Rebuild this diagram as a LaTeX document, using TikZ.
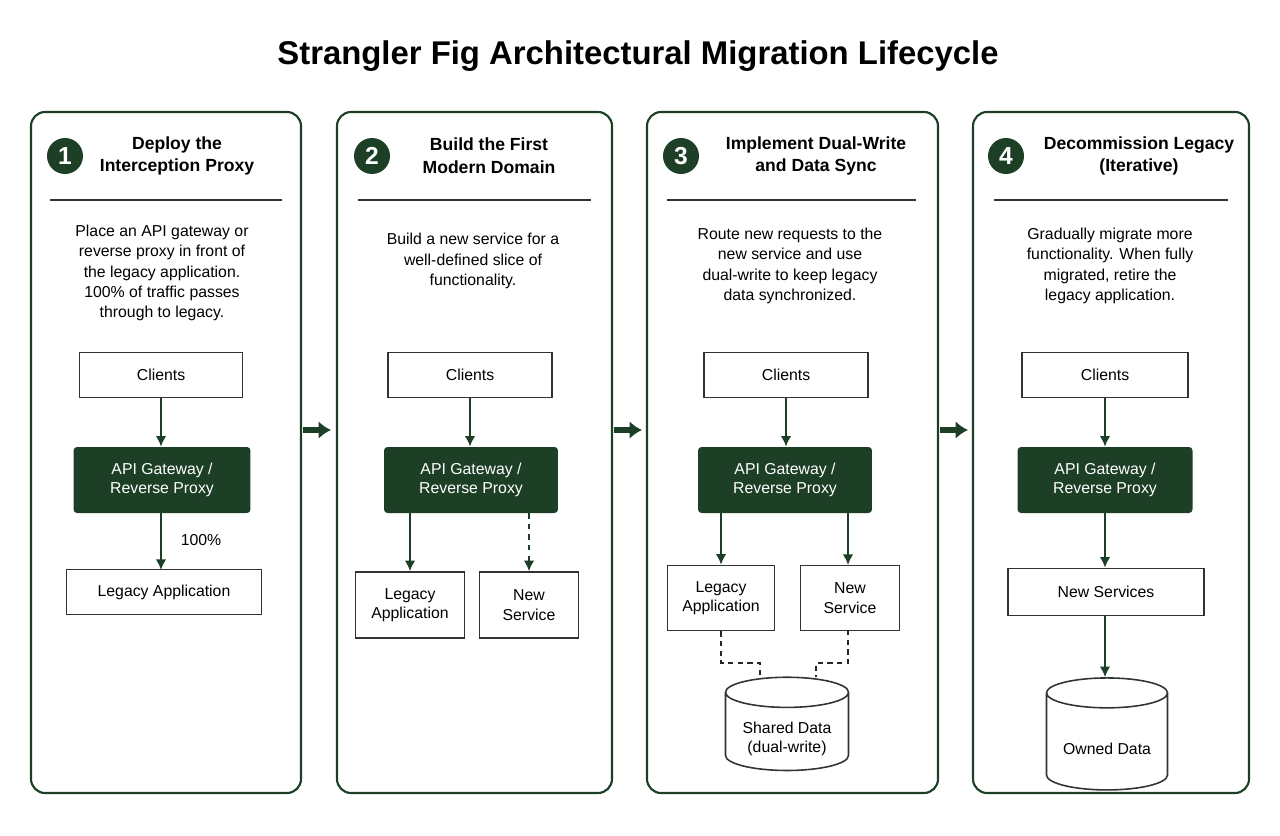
\documentclass[tikz,border=0pt]{standalone}
\usepackage{fontspec}
\setmainfont{Liberation Sans}
\usetikzlibrary{arrows.meta,shapes.geometric,positioning}
\definecolor{FigGreen}{HTML}{1C3F26}
\tikzset{
  box/.style={draw=black!80,line width=0.9pt,fill=white,align=center,font=\fontsize{9}{11}\selectfont},
  gate/.style={fill=FigGreen,rounded corners=2pt,text=white,align=center,font=\fontsize{9}{11}\selectfont},
  flow/.style={-{Latex[length=6pt,width=6pt]},line width=1.3pt,FigGreen},
  dflow/.style={flow,dashed},
  sync/.style={line width=1.1pt,black!85,dash pattern=on 3pt off 2.5pt},
  store/.style={cylinder,draw=black!80,line width=0.9pt,shape border rotate=90,aspect=0.3,align=center,font=\fontsize{9}{11}\selectfont},
  stepnum/.style={circle,fill=FigGreen,text=white,minimum size=0.72cm,inner sep=0pt,font=\bfseries\fontsize{14}{14}\selectfont},
  head/.style={align=center,font=\bfseries\fontsize{10}{13}\selectfont},
  desc/.style={align=center,font=\fontsize{9}{11.5}\selectfont},
  next/.style={-{Latex[length=7pt,width=10pt]},line width=3pt,FigGreen},
}
\newcommand{\Panel}[3]{% name, x left, x right
  \draw[FigGreen,line width=1.2pt,rounded corners=8pt] (#2,112) rectangle (#3,793);
  \coordinate (#1) at ({(#2+#3)/2},430);
}
\newcommand{\Rule}[2]{% x from, x to
  \draw[black!80,line width=0.7pt] (#1,200) -- (#2,200);
}

\begin{document}
\begin{tikzpicture}[x=0.02cm,y=-0.02cm]
  \useasboundingbox (0,0) rectangle (1280,835);
  \node[font=\bfseries\fontsize{18.7}{20}\selectfont] (title) at (638,56) {Strangler Fig Architectural Migration Lifecycle};
  %
  \Panel{pa}{31}{301}
  \Panel{pb}{337}{612}
  \Panel{pc}{647}{938}
  \Panel{pd}{973}{1249}
  \draw[next] (303,430) -- (331,430);
  \draw[next] (614,430) -- (642,430);
  \draw[next] (940,430) -- (968,430);
  %
  % panel 1
  \node[stepnum] (na) at (65,156) {1};
  \node[head] (ha) at (177,156) {Deploy the\\Interception Proxy};
  \Rule{50}{282}
  \node[desc] (da) at (162,273) {Place an API gateway or\\reverse proxy in front of\\the legacy application.\\100\% of traffic passes\\through to legacy.};
  \node[box,minimum width=3.26cm,minimum height=0.9cm] (ca) at (161,375) {Clients};
  \node[gate,minimum width=3.54cm,minimum height=1.32cm] (ga) at (162,480) {API Gateway /\\Reverse Proxy};
  \node[box,minimum width=3.9cm,minimum height=0.9cm] (la) at (164,592) {Legacy Application};
  \draw[flow] (ca) -- (ca |- ga.north);
  \draw[flow] (161,513) -- (161,570);
  \node[desc] (pct) at (201,540) {100\%};
  %
  % panel 2
  \node[stepnum] (nb) at (372,156) {2};
  \node[head] (hb) at (489,156) {Build the First\\Modern Domain};
  \Rule{358}{591}
  \node[desc] (db) at (473,261) {Build a new service for a\\well-defined slice of\\functionality.};
  \node[box,minimum width=3.28cm,minimum height=0.9cm] (cb) at (470,375) {Clients};
  \node[gate,minimum width=3.48cm,minimum height=1.32cm] (gb) at (471,480) {API Gateway /\\Reverse Proxy};
  \node[box,minimum width=2.18cm,minimum height=1.32cm] (lb) at (410,605) {Legacy\\Application};
  \node[box,minimum width=1.98cm,minimum height=1.32cm] (sb) at (529,605) {New\\Service};
  \draw[flow] (cb) -- (cb |- gb.north);
  \draw[flow] (gb.south -| lb) -- (lb);
  \draw[dflow] (gb.south -| sb) -- (sb);
  %
  % panel 3
  \node[stepnum] (nc) at (681,156) {3};
  \node[head] (hc) at (816,156) {Implement Dual-Write\\and Data Sync};
  \Rule{667}{916}
  \node[desc] (dc) at (790,266) {Route new requests to the\\new service and use\\dual-write to keep legacy\\data synchronized.};
  \node[box,minimum width=3.28cm,minimum height=0.9cm] (cc) at (786,375) {Clients};
  \node[gate,minimum width=3.48cm,minimum height=1.32cm] (gc) at (785,480) {API Gateway /\\Reverse Proxy};
  \node[box,minimum width=2.14cm,minimum height=1.3cm] (lc) at (721,598) {Legacy\\Application};
  \node[box,minimum width=1.98cm,minimum height=1.3cm] (sc) at (850,598) {New\\Service};
  \node[store,minimum width=2.46cm,minimum height=1.84cm] (shc) at (787,735) {\\Shared Data\\(dual-write)};
  \draw[flow] (cc) -- (cc |- gc.north);
  \draw[flow] (gc.south -| lc) -- (lc);
  \draw[flow] (848,513) -- (848,565);
  \draw[sync] (lc) -- (721,663) -- (760,663) -- (760,677);
  \draw[sync] (848,630) -- (848,663) -- (816,663) -- (816,677);
  %
  % panel 4
  \node[stepnum] (nd) at (1006,156) {4};
  \node[head] (hd) at (1139,156) {Decommission Legacy\\(Iterative)};
  \Rule{994}{1228}
  \node[desc] (dd) at (1110,266) {Gradually migrate more\\functionality. When fully\\migrated, retire the\\legacy application.};
  \node[box,minimum width=3.32cm,minimum height=0.9cm] (cd) at (1105,375) {Clients};
  \node[gate,minimum width=3.5cm,minimum height=1.32cm] (gd) at (1105,480) {API Gateway /\\Reverse Proxy};
  \node[box,minimum width=3.92cm,minimum height=0.94cm] (sd) at (1106,592) {New Services};
  \node[store,minimum width=2.42cm,minimum height=2.24cm] (od) at (1107,745) {\\Owned Data};
  \draw[flow] (cd) -- (cd |- gd.north);
  \draw[flow] (gd.south -| cd) -- (sd.north -| cd);
  \draw[flow] (sd.south -| cd) -- (od.north -| cd);
\end{tikzpicture}
\end{document}
